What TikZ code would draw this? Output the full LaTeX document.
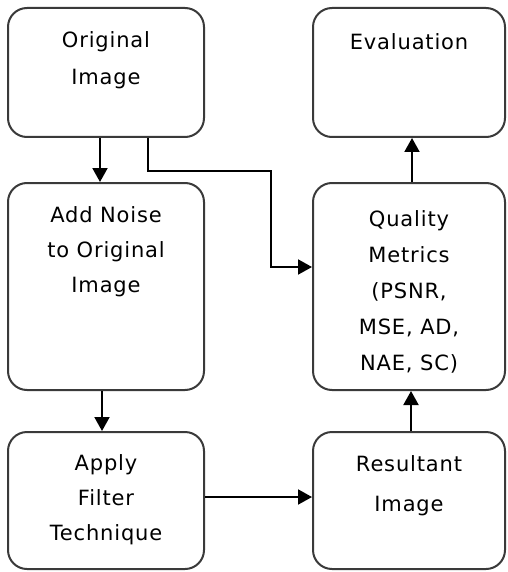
\documentclass[tikz,border=0pt]{standalone}
\usepackage{fontspec}
\setmainfont{DejaVu Sans}[LetterSpace=4]
\usetikzlibrary{arrows.meta,calc}

\definecolor{boxline}{HTML}{3A3A3A}

\tikzset{
  stage/.style={draw=boxline, line width=2pt, rounded corners=19pt,
    rectangle, inner sep=0pt, fill=white},
  caption/.style={inner sep=0pt, align=center,
    font=\fontsize{21}{37}\selectfont},
  flow/.style={draw=black, line width=2pt,
    -{Triangle[length=14pt,width=15pt]}},
}

\begin{document}
\begin{tikzpicture}[x=1pt, y=-1pt]
  \useasboundingbox (0,0) rectangle (507,572);

  % left column
  \node[stage, minimum width=196pt, minimum height=129pt] (orig)   at (106,72.5)  {};
  \node[stage, minimum width=196pt, minimum height=207pt] (noise)  at (106,286.5) {};
  \node[stage, minimum width=196pt, minimum height=137pt] (filter) at (106,500.5) {};

  % right column
  \node[stage, minimum width=192pt, minimum height=129pt] (eval)    at (409,72.5)  {};
  \node[stage, minimum width=192pt, minimum height=207pt] (quality) at (409,286.5) {};
  \node[stage, minimum width=192pt, minimum height=137pt] (result)  at (409,500.5) {};

  % captions
  \node[caption, anchor=north] (origT)    at ([yshift=-24pt]orig.north)    {Original\\Image};
  \node[caption, anchor=north, font=\fontsize{21}{35}\selectfont] (noiseT) at ([yshift=-24pt]noise.north) {Add Noise\\to Original\\Image};
  \node[caption, anchor=north, font=\fontsize{21}{35}\selectfont] (filterT) at ([yshift=-23pt]filter.north) {Apply\\Filter\\Technique};
  \node[caption, anchor=north] (evalT)    at ([yshift=-26pt]eval.north)    {Evaluation};
  \node[caption, anchor=north, font=\fontsize{21}{36}\selectfont] (qualityT) at ([yshift=-28pt]quality.north) {Quality\\Metrics\\(PSNR,\\MSE, AD,\\NAE, SC)};
  \node[caption, anchor=north, font=\fontsize{21}{40}\selectfont] (resultT) at ([yshift=-24pt]result.north) {Resultant\\Image};

  % bends of the long connector
  \coordinate (bendA) at (148,171);
  \coordinate (bendB) at (271,171);

  % connectors
  \draw[flow] ([xshift=-6pt]orig.south) -- ([xshift=-6pt]noise.north);
  \draw[flow] ([xshift=-4pt]noise.south) -- ([xshift=-4pt]filter.north);
  \draw[flow] (orig.south -| bendA) -- (bendA) -- (bendB) |- ([yshift=19.5pt]quality.west);
  \draw[flow] ([yshift=3.5pt]filter.east) -- ([yshift=3.5pt]result.west);
  \draw[flow] ([xshift=2pt]result.north) -- ([xshift=2pt]quality.south);
  \draw[flow] ([xshift=3pt]quality.north) -- ([xshift=3pt]eval.south);
\end{tikzpicture}
\end{document}
